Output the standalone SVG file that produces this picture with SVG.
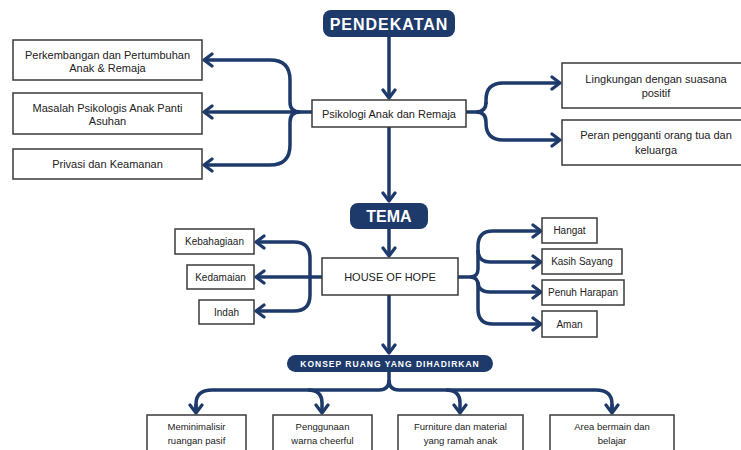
<svg xmlns="http://www.w3.org/2000/svg" width="741" height="450" viewBox="0 0 741 450">
<style>
.box{fill:#fff;stroke:#3a3a3a;stroke-width:1.5}
.pill{fill:#1d3a6b}
.t{font-family:"Liberation Sans",Arial,sans-serif;font-size:11px;fill:#222;text-anchor:middle}
.s{font-size:10px}
.b{font-size:9.5px}
.h{font-family:"Liberation Sans",Arial,sans-serif;font-weight:bold;fill:#fff;text-anchor:middle}
.c{fill:none;stroke:#1d3a6b;stroke-width:3.5;stroke-linejoin:round}
.a{marker-end:url(#arr)}
</style>
<defs>
<marker id="arr" markerUnits="userSpaceOnUse" viewBox="0 0 14 16" refX="11" refY="8" markerWidth="14" markerHeight="16" orient="auto">
<path d="M3,2 L11,8 L3,14" fill="none" stroke="#1d3a6b" stroke-width="3.2" stroke-linecap="round" stroke-linejoin="round"/>
</marker>
</defs>
<rect width="741" height="450" fill="#fff"/>
<g id="connectors">
<path class="c a" d="M389 37 V98"/>
<path class="c a" d="M389 127 V201"/>
<path class="c a" d="M389 229 V256"/>
<path class="c a" d="M389 295 V353"/>
<path class="c a" d="M312 112 H204"/>
<path class="c a" d="M300 112 Q290 112 290 102 V80 Q290 60 270 60 H204"/>
<path class="c a" d="M300 112 Q290 112 290 122 V145 Q290 165 270 165 H204"/>
<path class="c" d="M466 112 H476 Q486 112 486 102"/>
<path class="c a" d="M486 104 V100 Q486 83 503 83 H560"/>
<path class="c a" d="M476 112 Q486 112 486 122 V123 Q486 140 503 140 H560"/>
<path class="c a" d="M322 277 H256"/>
<path class="c a" d="M310 277 V258 Q310 242 294 242 H256"/>
<path class="c a" d="M310 277 V295 Q310 311 294 311 H256"/>
<path class="c a" d="M458 277 H470 Q478 277 478 269 V246 Q478 231 493 231 H541"/>
<path class="c a" d="M478 250 Q478 262 490 262 H541"/>
<path class="c a" d="M470 277 Q478 277 478 285 V309 Q478 324 493 324 H541"/>
<path class="c a" d="M478 282 Q478 292 490 292 H541"/>
<path class="c" d="M389 372 V380 Q389 390 379 390 H212 Q196 390 196 404 V413"/>
<path class="c" d="M389 380 Q389 390 399 390 H596 Q612 390 612 404 V413"/>
<path class="c a" d="M196 404 V413"/>
<path class="c a" d="M612 404 V413"/>
<path class="c a" d="M308 390 Q322 390 322 403 V413"/>
<path class="c a" d="M446 390 Q460 390 460 403 V413"/>
</g>
<g id="pendekatan"><rect class="pill" x="323" y="10" width="132" height="27" rx="8"/><text class="h" x="389" y="29.5" font-size="16" letter-spacing="1">PENDEKATAN</text></g>
<g id="psikologi"><rect class="box" x="312" y="100" width="154" height="27"/><text class="t" x="389" y="117.5" font-size="11.5">Psikologi Anak dan Remaja</text></g>
<g id="perkembangan"><rect class="box" x="13" y="40" width="189" height="40"/><text class="t" x="107.5" y="59">Perkembangan dan Pertumbuhan</text><text class="t" x="107.5" y="72">Anak &amp; Remaja</text></g>
<g id="masalah"><rect class="box" x="13" y="93" width="189" height="41"/><text class="t" x="107.5" y="112">Masalah Psikologis Anak Panti</text><text class="t" x="107.5" y="125">Asuhan</text></g>
<g id="privasi"><rect class="box" x="13" y="149" width="189" height="30"/><text class="t" x="107.5" y="168">Privasi dan Keamanan</text></g>
<g id="lingkungan"><rect class="box" x="562" y="63" width="190" height="45"/><text class="t" x="656" y="83">Lingkungan dengan suasana</text><text class="t" x="656" y="97">positif</text></g>
<g id="peran"><rect class="box" x="562" y="120" width="190" height="45"/><text class="t" x="656" y="139">Peran pengganti orang tua dan</text><text class="t" x="656" y="154">keluarga</text></g>
<g id="tema"><rect class="pill" x="350" y="203" width="78" height="26" rx="8"/><text class="h" x="389" y="222" font-size="16">TEMA</text></g>
<g id="house"><rect class="box" x="322" y="258" width="136" height="37"/><text class="t" x="390" y="281" font-size="11">HOUSE OF HOPE</text></g>
<g id="kebahagiaan"><rect class="box" x="175" y="229" width="79" height="25"/><text class="t s" x="214.5" y="245">Kebahagiaan</text></g>
<g id="kedamaian"><rect class="box" x="187" y="265" width="67" height="24"/><text class="t s" x="220.5" y="280.5">Kedamaian</text></g>
<g id="indah"><rect class="box" x="199" y="300" width="55" height="24"/><text class="t s" x="226.5" y="315.5">Indah</text></g>
<g id="hangat"><rect class="box" x="542" y="218" width="55" height="25"/><text class="t s" x="569.5" y="234">Hangat</text></g>
<g id="kasih"><rect class="box" x="542" y="249" width="80" height="25"/><text class="t s" x="582" y="265">Kasih Sayang</text></g>
<g id="penuh"><rect class="box" x="542" y="280" width="82" height="25"/><text class="t s" x="583" y="296">Penuh Harapan</text></g>
<g id="aman"><rect class="box" x="542" y="311" width="55" height="26"/><text class="t s" x="569.5" y="327.5">Aman</text></g>
<g id="konsep"><rect class="pill" x="287" y="355" width="206" height="17" rx="8.5"/><text class="h" x="390" y="366.5" font-size="8.5" letter-spacing="1">KONSEP RUANG YANG DIHADIRKAN</text></g>
<g id="meminimalisir"><rect class="box" x="147" y="415" width="99" height="45"/><text class="t b" x="196.5" y="429.5">Meminimalisir</text><text class="t b" x="196.5" y="443.5">ruangan pasif</text></g>
<g id="penggunaan"><rect class="box" x="273" y="415" width="99" height="45"/><text class="t b" x="322.5" y="429.5">Penggunaan</text><text class="t b" x="322.5" y="443.5">warna cheerful</text></g>
<g id="furniture"><rect class="box" x="398" y="415" width="125" height="45"/><text class="t b" x="460.5" y="429.5">Furniture dan material</text><text class="t b" x="460.5" y="443.5">yang ramah anak</text></g>
<g id="area"><rect class="box" x="550" y="415" width="124" height="45"/><text class="t b" x="612" y="429.5">Area bermain dan</text><text class="t b" x="612" y="443.5">belajar</text></g>
</svg>
